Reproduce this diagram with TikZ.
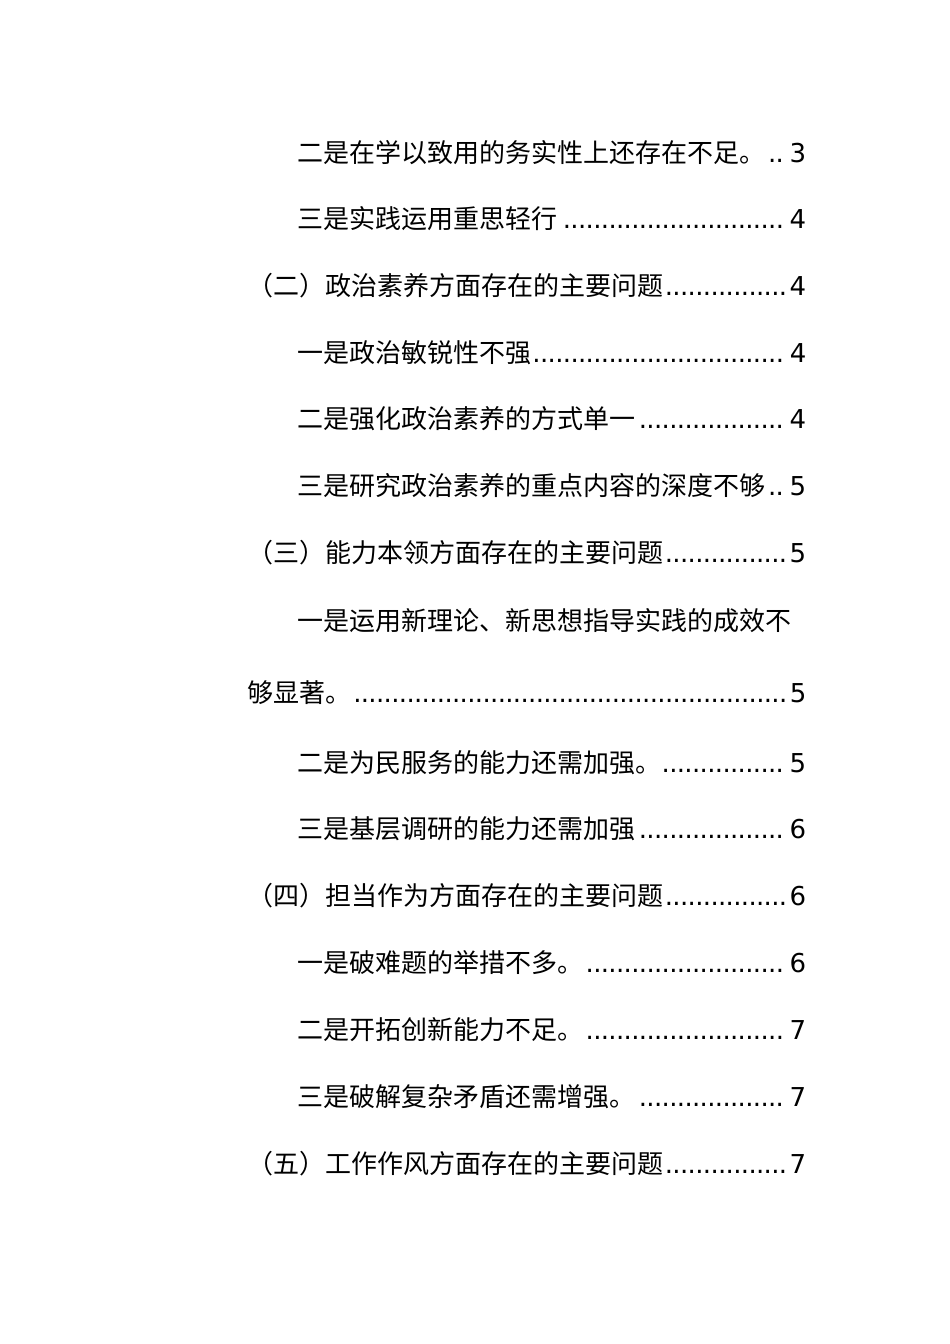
\documentclass[tikz,border=0pt]{standalone}
\usepackage{fontspec}
\setmainfont{Noto Sans CJK SC}
\newfontfamily\dv{DejaVu Sans}
\newcommand{\ldr}{\leaders\hbox to 7.6pt{\hss\dv.\hss}\hfill}
\newcommand{\tocline}[3]{\hbox to #1{#2\ldr{\dv #3}}}
\begin{document}
\begin{tikzpicture}[x=1pt,y=-1pt,every node/.style={inner sep=0pt,anchor=base west,font=\fontsize{26}{30}\selectfont}]
\useasboundingbox (0,0) rectangle (950,1344);
\def\R{806}
\node (l1) at (297,162) {\tocline{509pt}{二是在学以致用的务实性上还存在不足。}{3}};
\node (l2) at (297,228) {\tocline{509pt}{三是实践运用重思轻行}{4}};
\node (l3) at (247,295) {\tocline{559pt}{（二）政治素养方面存在的主要问题}{4}};
\node (l4) at (297,362) {\tocline{509pt}{一是政治敏锐性不强}{4}};
\node (l5) at (297,428) {\tocline{509pt}{二是强化政治素养的方式单一}{4}};
\node (l6) at (297,495) {\tocline{509pt}{三是研究政治素养的重点内容的深度不够}{5}};
\node (l7) at (247,562) {\tocline{559pt}{（三）能力本领方面存在的主要问题}{5}};
\node (l8) at (297,630) {一是运用新理论、新思想指导实践的成效不};
\node (l9) at (247,702) {\tocline{559pt}{够显著。}{5}};
\node (l10) at (297,772) {\tocline{509pt}{二是为民服务的能力还需加强。}{5}};
\node (l11) at (297,838) {\tocline{509pt}{三是基层调研的能力还需加强}{6}};
\node (l12) at (247,905) {\tocline{559pt}{（四）担当作为方面存在的主要问题}{6}};
\node (l13) at (297,972) {\tocline{509pt}{一是破难题的举措不多。}{6}};
\node (l14) at (297,1039) {\tocline{509pt}{二是开拓创新能力不足。}{7}};
\node (l15) at (297,1106) {\tocline{509pt}{三是破解复杂矛盾还需增强。}{7}};
\node (l16) at (247,1173) {\tocline{559pt}{（五）工作作风方面存在的主要问题}{7}};
\end{tikzpicture}
\end{document}
